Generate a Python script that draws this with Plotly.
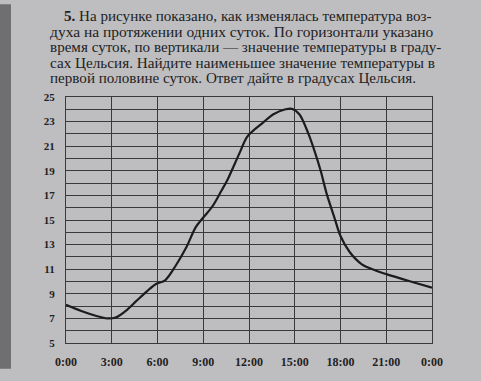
import plotly.graph_objects as go

# ---- data ----
hours = [0, 1, 2, 2.7, 3.3, 4, 4.6, 5.3, 5.9, 6.5, 7.2, 7.9, 8.5, 9, 9.6, 10.2, 10.6,
         11.4, 11.9, 12.9, 13.6, 14.4, 14.8, 15.3, 15.9, 16.3, 16.7, 17.1, 17.6, 18,
         18.6, 19.4, 20.3, 21, 22.6, 24]
temps = [8.1, 7.6, 7.2, 7.0, 7.1, 7.7, 8.4, 9.2, 9.8, 10.1, 11.3, 12.8, 14.4, 15.2, 16.1, 17.4, 18.3,
         20.5, 21.8, 22.9, 23.6, 24.0, 24.05, 23.6, 22.0, 20.6, 19.0, 17.1, 15.2, 13.7,
         12.4, 11.4, 10.9, 10.6, 10.0, 9.5]
x_tickvals = [0, 3, 6, 9, 12, 15, 18, 21, 24]
x_ticktext = ["0:00", "3:00", "6:00", "9:00", "12:00", "15:00", "18:00", "21:00", "0:00"]
y_tickvals = [5, 7, 9, 11, 13, 15, 17, 19, 21, 23, 25]
text_lines = [
    "<b>5.</b> На рисунке показано, как изменялась температура воз-",
    "духа на протяжении одних суток. По горизонтали указано",
    "время суток, по вертикали — значение температуры в граду-",
    "сах Цельсия. Найдите наименьшее значение температуры в",
    "первой половине суток. Ответ дайте в градусах Цельсия.",
]

W, H = 481, 381
L, R, T, B = 66, 49, 97, 27
PW, PH = W - L - R, H - T - B

def px(xp):
    return (xp - L) / PW

def py(yp):
    return (H - B - yp) / PH

BG = "#bebdc0"
INK = "#222222"
GRID = "#3a3a3a"
SERIF = "Liberation Serif, DejaVu Serif, serif"

fig = go.Figure()
fig.add_trace(go.Scatter(
    x=hours, y=temps, mode="lines",
    line=dict(color="#1c1c1c", width=2.2, shape="spline", smoothing=0.9),
    hoverinfo="skip", showlegend=False,
))

fig.update_layout(
    width=W, height=H,
    margin=dict(l=L, r=R, t=T, b=B, pad=0),
    paper_bgcolor=BG, plot_bgcolor=BG,
    font=dict(family=SERIF, color=INK),
    xaxis=dict(range=[0, 24], tickvals=x_tickvals, ticktext=x_ticktext,
               showgrid=True, gridcolor=GRID, gridwidth=1, zeroline=False,
               showline=True, linecolor=GRID, linewidth=1.3, mirror=True,
               ticks="", ticklabelstandoff=7,
               tickfont=dict(family=SERIF, size=12, color=INK, weight="bold")),
    yaxis=dict(range=[5, 25], tickvals=y_tickvals,
               showgrid=True, gridcolor=GRID, gridwidth=1, zeroline=False,
               showline=True, linecolor=GRID, linewidth=1.3, mirror=True,
               ticks="", ticklabelstandoff=8,
               minor=dict(dtick=1, tick0=5, showgrid=True, gridcolor=GRID, gridwidth=1, ticks=""),
               tickfont=dict(family=SERIF, size=11, color=INK, weight="bold")),
)

# binding shadow at left edge
fig.add_shape(type="rect", xref="paper", yref="paper",
              x0=px(0), x1=px(11), y0=py(H), y1=py(0),
              fillcolor="#6f6e70", line=dict(width=0), layer="below")

line_starts = [62, 48, 48, 48, 48]
line_ys = [12, 29, 45, 61, 77]
line_sizes = [15.1, 15.5, 15.1, 15.2, 15.1]
for t, xs, ys, fs in zip(text_lines, line_starts, line_ys, line_sizes):
    fig.add_annotation(text=t, xref="paper", yref="paper", x=px(xs), y=py(ys),
                       xanchor="left", yanchor="middle", showarrow=False,
                       font=dict(family=SERIF, size=fs, color=INK))

fig.write_html("out.html")
